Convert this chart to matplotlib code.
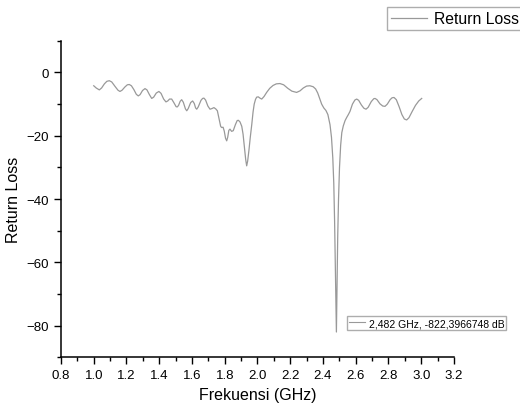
import matplotlib
matplotlib.use('Agg')
import matplotlib.pyplot as plt
from matplotlib.lines import Line2D
from matplotlib.ticker import MultipleLocator

plt.rcParams['font.family'] = ['Liberation Sans', 'DejaVu Sans']

# Return loss trace (GHz, dB)
freq = [1.000, 1.015, 1.034, 1.048, 1.065, 1.080, 1.095, 1.110, 1.130, 1.148,
        1.160, 1.173, 1.190, 1.205, 1.217, 1.230, 1.245, 1.260, 1.272, 1.283,
        1.298, 1.313, 1.325, 1.340, 1.354, 1.366, 1.382, 1.398, 1.411, 1.427,
        1.441, 1.452, 1.463, 1.476, 1.490, 1.503, 1.510, 1.518, 1.528, 1.537,
        1.547, 1.560, 1.568, 1.577, 1.592, 1.604, 1.614, 1.622, 1.629, 1.638,
        1.655, 1.665, 1.673, 1.683, 1.697, 1.710, 1.722, 1.734, 1.745, 1.755,
        1.765, 1.775, 1.781, 1.790, 1.797, 1.805, 1.812, 1.818, 1.825, 1.832,
        1.842, 1.852, 1.865, 1.876, 1.883, 1.893, 1.904, 1.912, 1.920, 1.928,
        1.934, 1.940, 1.948, 1.956, 1.965, 1.973, 1.980, 1.988, 1.995, 2.005,
        2.015, 2.026, 2.040, 2.056, 2.075, 2.095, 2.115, 2.137, 2.160, 2.185,
        2.210, 2.239, 2.260, 2.280, 2.300, 2.320, 2.340, 2.355, 2.368, 2.380,
        2.392, 2.405, 2.418, 2.430, 2.443, 2.452, 2.460, 2.466, 2.471, 2.476,
        2.482, 2.486, 2.490, 2.495, 2.501, 2.508, 2.515, 2.524, 2.535, 2.545,
        2.555, 2.565, 2.580, 2.595, 2.606, 2.618, 2.635, 2.650, 2.663, 2.676,
        2.695, 2.710, 2.718, 2.730, 2.748, 2.765, 2.779, 2.793, 2.810, 2.822,
        2.834, 2.848, 2.865, 2.882, 2.897, 2.911, 2.925, 2.945, 2.965, 2.985,
        3.003]
rl = [-4.2, -4.9, -5.5, -4.9, -3.6, -2.8, -2.6, -3.0, -4.4, -5.6,
      -6.0, -5.6, -4.6, -3.9, -3.8, -4.2, -5.4, -6.9, -7.4, -7.0,
      -5.7, -5.1, -5.5, -7.0, -8.2, -7.8, -6.5, -6.0, -6.6, -8.4,
      -9.3, -9.0, -8.4, -8.4, -9.6, -10.8, -10.9, -10.4, -9.1, -8.6,
      -9.4, -11.5, -12.1, -11.4, -9.5, -9.0, -9.8, -11.2, -11.6, -10.9,
      -8.8, -8.2, -8.1, -8.7, -10.6, -11.6, -11.4, -11.1, -11.5, -12.1,
      -14.5, -17.0, -17.4, -17.3, -18.5, -20.8, -21.6, -20.5, -18.3, -17.9,
      -18.6, -18.4, -16.5, -15.2, -15.1, -15.6, -17.0, -19.5, -23.5, -27.5,
      -29.5, -28.0, -24.5, -20.5, -16.5, -12.5, -10.0, -8.5, -7.8, -7.7,
      -8.1, -8.4, -7.6, -6.3, -5.0, -4.1, -3.6, -3.5, -3.9, -5.0,
      -5.9, -6.3, -5.8, -4.9, -4.3, -4.2, -4.5, -5.2, -6.5, -8.3,
      -10.0, -11.2, -12.0, -13.3, -16.5, -20.5, -27.0, -35.0, -47.0, -63.0,
      -82.0, -68.0, -52.0, -40.0, -30.0, -23.0, -19.0, -16.9, -15.2, -14.2,
      -13.3, -12.3, -10.0, -8.7, -8.4, -8.8, -10.3, -11.3, -11.6, -11.0,
      -9.2, -8.3, -8.2, -8.6, -9.9, -10.6, -10.7, -10.0, -8.6, -8.0,
      -7.9, -8.6, -10.8, -13.3, -14.7, -15.0, -14.3, -12.3, -10.4, -9.0,
      -8.2]

marker_label = '2,482 GHz, -822,3966748 dB'
xticks = [0.8, 1.0, 1.2, 1.4, 1.6, 1.8, 2.0, 2.2, 2.4, 2.6, 2.8, 3.0, 3.2]
yticks = [0, -20, -40, -60, -80]

fig = plt.figure(figsize=(5.2, 4.1), dpi=100)
ax = fig.add_axes([0.1173, 0.126, 0.7557, 0.772])

line, = ax.plot(freq, rl, color='#999999', lw=0.9)

ax.set_xlim(0.8, 3.2)
ax.set_ylim(-90, 10)
ax.set_xticks(xticks)
ax.set_xticklabels([f'{t:.1f}' for t in xticks])
ax.set_yticks(yticks)
ax.xaxis.set_minor_locator(MultipleLocator(0.1))
ax.yaxis.set_minor_locator(MultipleLocator(10))
ax.tick_params(which='major', direction='out', length=5, width=1, labelsize=9.5, color='black')
ax.tick_params(which='minor', direction='out', length=3, width=1)
ax.spines['top'].set_visible(False)
ax.spines['right'].set_visible(False)
for s in ('left', 'bottom'):
    ax.spines[s].set_linewidth(1.1)

ax.set_xlabel('Frekuensi (GHz)', fontsize=11.5)
ax.set_ylabel('Return Loss', fontsize=11.5)

# marker readout box
ax.legend(handles=[Line2D([], [], color='#999999', lw=0.8)], labels=[marker_label],
          loc='lower left', bbox_to_anchor=(0.727, 0.086), fontsize=7.5,
          frameon=True, fancybox=False, edgecolor='#999999', handlelength=1.6,
          handletextpad=0.3, borderpad=0.2, borderaxespad=0)

fig.legend([line], ['Return Loss'], loc='upper left', bbox_to_anchor=(0.744, 0.98),
           fontsize=11.3, frameon=True, fancybox=False, edgecolor='#999999',
           handlelength=2.3, handletextpad=0.45, borderpad=0.25, borderaxespad=0)

plt.savefig('out.png', dpi=100)
